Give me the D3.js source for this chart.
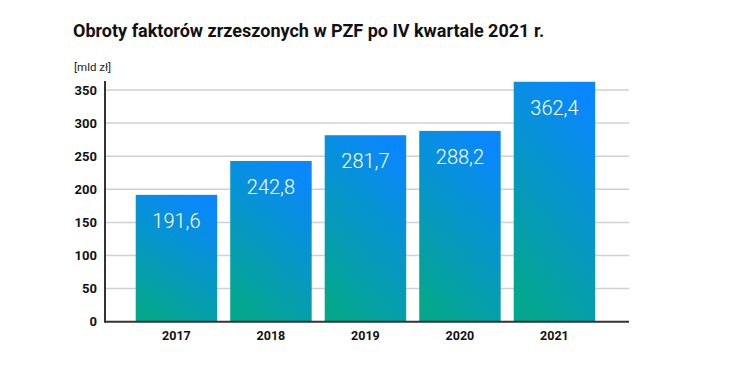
<!DOCTYPE html>
<html><head><meta charset="utf-8">
<script src="https://cdnjs.cloudflare.com/ajax/libs/d3/7.8.5/d3.min.js"></script>
<style>body{margin:0;background:#fff}svg{display:block}</style>
</head><body><svg id="c" width="730" height="365"></svg>
<script>
const categories = ["2017","2018","2019","2020","2021"];
const values = [191.6, 242.8, 281.7, 288.2, 362.4];
const valueLabels = ["191,6","242,8","281,7","288,2","362,4"];
const yTicks = [0,50,100,150,200,250,300,350];
const title = "Obroty faktorów zrzeszonych w PZF po IV kwartale 2021 r.";
const unit = "[mld zł]";

const svg = d3.select("#c");
const font = "Roboto, 'Open Sans', sans-serif";
const x0 = 105, x1 = 629, yBase = 321.7, yTop = 90;
const y = d3.scaleLinear().domain([0,350]).range([yBase, yTop]);
const x = d3.scaleBand().domain(categories).range([129.2, 601.7]).paddingInner(0.138).paddingOuter(0.069);

const defs = svg.append("defs");
const g = defs.append("linearGradient").attr("id","grad")
  .attr("x1","0.3").attr("y1","1").attr("x2","0.7").attr("y2","0");
g.append("stop").attr("offset","0").attr("stop-color","#03a78d");
g.append("stop").attr("offset","0.5").attr("stop-color","#0697c6");
g.append("stop").attr("offset","1").attr("stop-color","#0a87fd");

svg.append("text").attr("x",73).attr("y",37).attr("font-family",font)
  .attr("font-weight","bold").attr("font-size",18).attr("fill","#111").text(title);
svg.append("text").attr("x",74).attr("y",71).attr("font-family",font)
  .attr("font-size",11.5).attr("fill","#222").text(unit);

// gridlines
svg.append("g").selectAll("line").data(yTicks.filter(d=>d>0)).join("line")
  .attr("x1",x0).attr("x2",x1).attr("y1",d=>y(d)).attr("y2",d=>y(d))
  .attr("stroke","#d0d0d0").attr("stroke-width",1.5);

// y axis
const ya = svg.append("g").attr("transform",`translate(${x0},0)`)
  .call(d3.axisLeft(y).tickValues(yTicks).tickSize(0).tickPadding(8));
ya.select(".domain").remove();
ya.selectAll("text").attr("font-family",font).attr("font-weight","bold")
  .attr("font-size",13).attr("fill","#111");

// bars
svg.append("g").selectAll("rect").data(values).join("rect")
  .attr("x",(d,i)=>x(categories[i])).attr("width",x.bandwidth())
  .attr("y",d=>y(d)).attr("height",d=>yBase-y(d)).attr("fill","url(#grad)");

svg.append("g").selectAll("text").data(values).join("text")
  .attr("x",(d,i)=>x(categories[i])+x.bandwidth()/2).attr("y",d=>y(d)+33)
  .attr("text-anchor","middle").attr("font-family",font).attr("font-weight",300)
  .attr("font-size",20).attr("fill","#fff").text((d,i)=>valueLabels[i]);

// axis lines
svg.append("line").attr("x1",x0).attr("x2",x0).attr("y1",y(350)-9).attr("y2",yBase+1)
  .attr("stroke","#333").attr("stroke-width",2);
svg.append("line").attr("x1",x0).attr("x2",x1).attr("y1",yBase).attr("y2",yBase)
  .attr("stroke","#333").attr("stroke-width",2);

// x axis labels
const xa = svg.append("g").attr("transform",`translate(0,${yBase})`)
  .call(d3.axisBottom(x).tickSize(0).tickPadding(9));
xa.select(".domain").remove();
xa.selectAll("text").attr("font-family",font).attr("font-weight","bold")
  .attr("font-size",12.5).attr("fill","#111");
</script></body></html>
